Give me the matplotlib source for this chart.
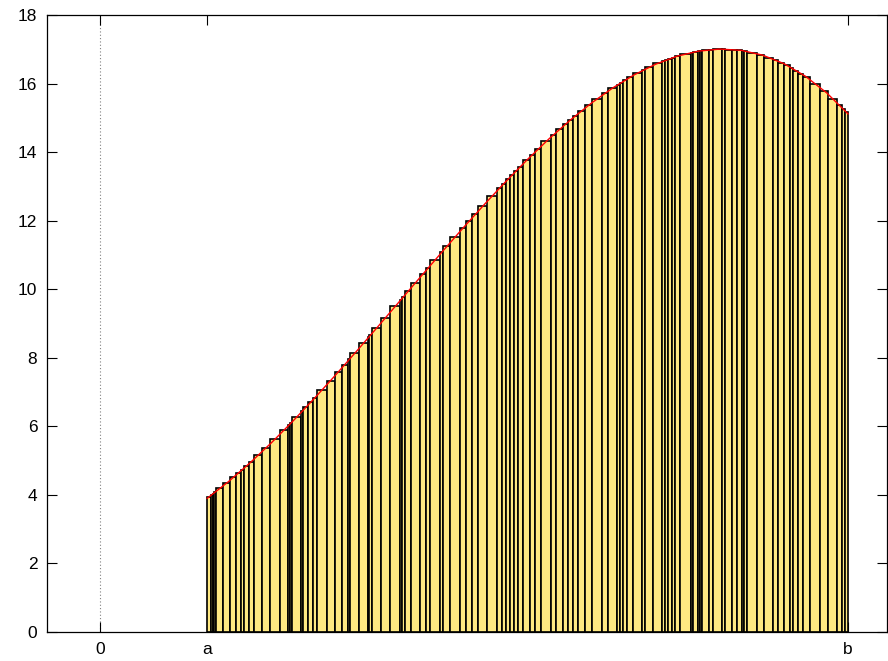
import numpy as np
import matplotlib
matplotlib.use("Agg")
import matplotlib.pyplot as plt

plt.rcParams['font.family'] = ['Liberation Sans', 'DejaVu Sans']

# partition edges (data units, a=1, b=7)
edges = [1.000, 1.031, 1.050, 1.068, 1.087, 1.147, 1.218, 1.274, 1.318, 1.344,
         1.387, 1.437, 1.512, 1.590, 1.677, 1.761, 1.777, 1.793, 1.880, 1.901,
         1.943, 1.995, 2.027, 2.117, 2.192, 2.261, 2.317, 2.341, 2.423, 2.504,
         2.519, 2.542, 2.629, 2.713, 2.807, 2.823, 2.853, 2.910, 2.994, 3.047,
         3.090, 3.184, 3.212, 3.277, 3.368, 3.424, 3.483, 3.534, 3.624, 3.715,
         3.759, 3.796, 3.839, 3.871, 3.908, 3.961, 4.026, 4.070, 4.127, 4.220,
         4.264, 4.335, 4.382, 4.429, 4.470, 4.538, 4.601, 4.700, 4.751, 4.835,
         4.866, 4.897, 4.929, 4.990, 5.069, 5.100, 5.178, 5.256, 5.287, 5.318,
         5.350, 5.381, 5.428, 5.528, 5.552, 5.599, 5.615, 5.631, 5.702, 5.734,
         5.818, 5.849, 5.912, 5.958, 6.005, 6.027, 6.058, 6.146, 6.214, 6.295,
         6.348, 6.401, 6.457, 6.488, 6.535, 6.580, 6.645, 6.738, 6.816, 6.894,
         6.941, 6.972, 7.000]

# bar heights
heights = [3.94, 4.00, 4.04, 4.09, 4.19, 4.35, 4.51, 4.65, 4.74, 4.84,
           4.97, 5.15, 5.37, 5.62, 5.89, 6.05, 6.10, 6.26, 6.44, 6.55,
           6.70, 6.84, 7.05, 7.33, 7.58, 7.80, 7.95, 8.13, 8.42, 8.60,
           8.67, 8.86, 9.17, 9.50, 9.70, 9.78, 9.94, 10.19, 10.44, 10.62,
           10.86, 11.08, 11.25, 11.53, 11.79, 11.99, 12.18, 12.42, 12.72, 12.95,
           13.08, 13.21, 13.33, 13.44, 13.58, 13.77, 13.93, 14.08, 14.31, 14.50,
           14.66, 14.82, 14.95, 15.06, 15.20, 15.36, 15.55, 15.71, 15.86, 15.97,
           16.03, 16.09, 16.18, 16.30, 16.39, 16.47, 16.59, 16.65, 16.69, 16.72,
           16.76, 16.80, 16.86, 16.90, 16.93, 16.95, 16.95, 16.97, 16.98, 17.00,
           17.00, 16.99, 16.98, 16.97, 16.96, 16.94, 16.90, 16.84, 16.76, 16.68,
           16.61, 16.53, 16.45, 16.38, 16.29, 16.19, 15.99, 15.79, 15.56, 15.37,
           15.25, 15.16]

# curve points
curve_x = [1.0, 1.2, 1.4, 1.6, 1.8, 2.0, 2.2, 2.4, 2.6, 2.8, 3.0, 3.2, 3.4, 3.6,
           3.8, 4.0, 4.2, 4.4, 4.6, 4.8, 5.0, 5.2, 5.4, 5.6, 5.8, 6.0, 6.2, 6.4,
           6.6, 6.8, 7.0]
curve_y = [3.900, 4.389, 4.931, 5.517, 6.144, 6.804, 7.490, 8.196, 8.915, 9.642,
           10.369, 11.091, 11.801, 12.490, 13.155, 13.789, 14.386, 14.936, 15.436,
           15.878, 16.258, 16.566, 16.799, 16.946, 17.006, 16.969, 16.829, 16.581,
           16.216, 15.729, 15.115]

xtick_pos = [0, 1, 7]
xtick_labels = ["0", "a", "b"]
ytick_pos = list(range(0, 19, 2))

fig = plt.figure(figsize=(8.88, 6.61), dpi=100)
ax = fig.add_axes([47/888, 29/661, 840/888, 617/661])

e = np.array(edges)
ax.bar(e[:-1], heights, width=np.diff(e), align='edge',
       color='#ffe982', edgecolor='black', linewidth=1.2, zorder=2)
ax.plot(curve_x, curve_y, color='red', linewidth=1.0, zorder=3)
ax.axvline(0, color='#808080', linestyle=(0, (1, 2)), linewidth=0.8, zorder=1)

ax.set_xlim(-0.5, 7.365)
ax.set_ylim(0, 18)
ax.set_xticks(xtick_pos)
ax.set_xticklabels(xtick_labels)
ax.set_yticks(ytick_pos)
ax.tick_params(direction='in', length=7, width=0.8, top=True, right=True,
               labelsize=12.5, pad=7)
for s in ax.spines.values():
    s.set_linewidth(0.9)

fig.savefig("out.png", dpi=100)
